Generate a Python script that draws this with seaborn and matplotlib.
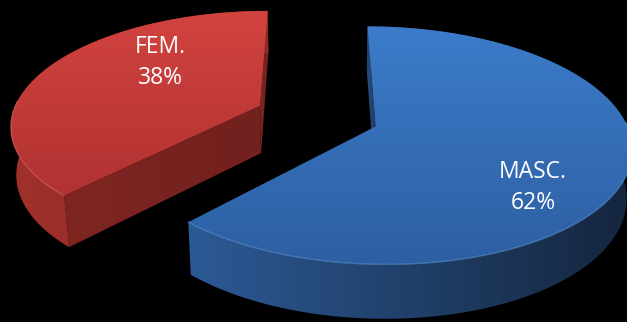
import numpy as np
import matplotlib
matplotlib.use("Agg")
import matplotlib.pyplot as plt
import seaborn as sns
from matplotlib.patches import PathPatch
from matplotlib.path import Path
from matplotlib.colors import to_rgb

# Gender split
labels = ["MASC.", "FEM."]
shares = [62, 38]
explode = [0.25, 0.25]

# top face (light, dark), side wall (light, dark), cut face
top_colors = [("#3c7cca", "#2d5fa2"), ("#d24340", "#b03231")]
wall_colors = [("#2c5a95", "#15253d"), ("#a0302b", "#8c2a26")]
cut_colors = [("#2a4f80", "#1f3a60"), ("#7e2521", "#72211e")]
rim_colors = ["#5b95d8", "#e06763"]

sns.set_theme(style="white")
plt.rcParams["font.family"] = ["Open Sans", "DejaVu Sans"]

W, H = 627, 322
fig = plt.figure(figsize=(W / 100, H / 100), dpi=100, facecolor="black")
ax = fig.add_axes([0, 0, 1, 1])
ax.set_facecolor("black")

# Let pie() lay out the slice angles and exploded centres, then extrude them in 3-D
wedges, _ = ax.pie(shares, startangle=90, counterclock=False, explode=explode, radius=1.0)
slices = [(w.theta1, w.theta2, w.center) for w in wedges]
for w in wedges:
    w.remove()

# Simple perspective camera looking down on the pie
FOCAL, DIST, TILT, THICK = 1415.0, 5.7, np.radians(27), 0.22
ORIGIN = (317.0, 116.0)
CT, ST = np.cos(TILT), np.sin(TILT)
CAM = np.array([0.0, -DIST * CT, DIST * ST])


def project(X, Y, Z):
    X, Y, Z = np.broadcast_arrays(np.asarray(X, float), np.asarray(Y, float), np.asarray(Z, float))
    depth = DIST + Y * CT - Z * ST
    sx = FOCAL * X / depth
    sy = FOCAL * (Y * ST + Z * CT) / depth
    return ORIGIN[0] + sx, ORIGIN[1] - sy


def gradient_fill(xs, ys, c0, c1, vertical=True, z=1):
    verts = np.column_stack([xs, ys])
    patch = PathPatch(Path(verts, closed=False), facecolor="none", edgecolor="none", zorder=z)
    ax.add_patch(patch)
    n = 256
    t = np.linspace(0, 1, n)
    a, b = np.array(to_rgb(c0)), np.array(to_rgb(c1))
    grad = a[None, :] * (1 - t[:, None]) + b[None, :] * t[:, None]
    img = grad[:, None, :] if vertical else grad[None, :, :]
    x0, x1, y0, y1 = xs.min(), xs.max(), ys.min(), ys.max()
    im = ax.imshow(img, extent=(x0, x1, y1, y0), origin="upper", aspect="auto",
                   interpolation="bilinear", zorder=z)
    im.set_clip_path(patch)


order = np.argsort([c[1] for _, _, c in slices])[::-1]  # back slice first
z = 1
for i in order:
    t1, t2, (cx, cy) = slices[i]
    ang = np.radians(np.linspace(t1, t2, 240))
    rx, ry = cx + np.cos(ang), cy + np.sin(ang)

    # radial cut faces, drawn only when they face the camera
    for theta, sgn in ((t1, -1), (t2, 1)):
        th = np.radians(theta)
        n = np.array([np.cos(th + sgn * np.pi / 2), np.sin(th + sgn * np.pi / 2), 0.0])
        if np.dot(CAM - np.array([cx, cy, 0.0]), n) <= 0:
            continue
        px = [cx, cx + np.cos(th), cx + np.cos(th), cx]
        py = [cy, cy + np.sin(th), cy + np.sin(th), cy]
        pz = [0, 0, -THICK, -THICK]
        sx, sy = project(px, py, pz)
        gradient_fill(sx, sy, *cut_colors[i], vertical=False, z=z)
        z += 1

    # outer wall
    tx, ty = project(rx, ry, 0)
    bx, by = project(rx[::-1], ry[::-1], -THICK)
    gradient_fill(np.r_[tx, bx], np.r_[ty, by], *wall_colors[i], vertical=False, z=z)
    z += 1

    # top face
    ox, oy = project(cx, cy, 0)
    fx = np.r_[ox, tx]
    fy = np.r_[oy, ty]
    gradient_fill(fx, fy, *top_colors[i], vertical=True, z=z)
    z += 1

    # soft highlight on the front rim
    front = np.sin(ang) < 0.05
    ax.plot(np.where(front, tx, np.nan), np.where(front, ty, np.nan),
            color=rim_colors[i], lw=1.0, alpha=0.6, zorder=z, solid_capstyle="round")
    z += 1

# labels placed on each top face
label_spots = [(-41, 0.74), (136.7, 0.618)]
for i, (t1, t2, (cx, cy)) in enumerate(slices):
    a, r = label_spots[i]
    lx, ly = project(cx + r * np.cos(np.radians(a)), cy + r * np.sin(np.radians(a)), 0)
    ax.text(float(lx), float(ly), f"{labels[i]}\n{shares[i]}%", color="white",
            fontsize=16.5, ha="center", va="center", linespacing=1.4, zorder=z + 1)

ax.set_aspect("auto")
ax.set_xlim(0, W)
ax.set_ylim(H, 0)
ax.axis("off")
fig.savefig("out.png", dpi=100, facecolor="black")
